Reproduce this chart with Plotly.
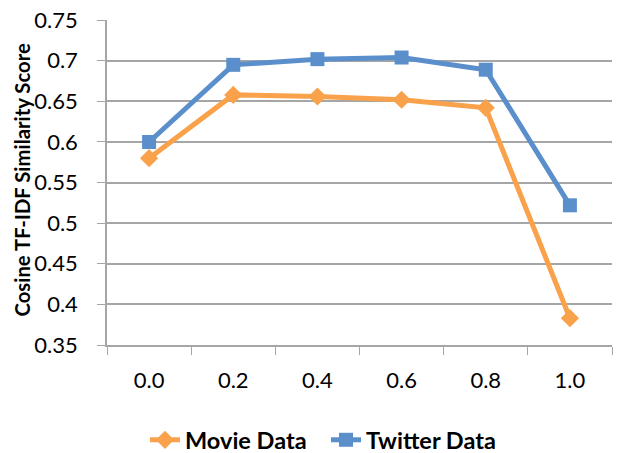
import plotly.graph_objects as go

categories = ["0.0", "0.2", "0.4", "0.6", "0.8", "1.0"]
movie_values = [0.580, 0.658, 0.656, 0.652, 0.642, 0.383]
twitter_values = [0.600, 0.695, 0.702, 0.704, 0.689, 0.522]
y_ticks = [0.35, 0.4, 0.45, 0.5, 0.55, 0.6, 0.65, 0.7, 0.75]
y_tick_labels = ["0.35", "0.4", "0.45", "0.5", "0.55", "0.6", "0.65", "0.7", "0.75"]

FONT = "Lato, 'Open Sans', sans-serif"
ORANGE = "#F9A24B"
BLUE = "#5A8FCB"
GRID = "#A6A6A6"

# body margin is removed by a post script, so the figure fills the window
W, H = 617, 453
L, T, B, R = 107, 20, 108, 5
PH = H - T - B
PW = W - L - R
OFF = 0


def px_x(page_x):
    return (page_x - OFF - L) / PW


def px_y(page_y):
    return (T + PH - (page_y - OFF)) / PH


fig = go.Figure()
fig.add_trace(go.Scatter(
    x=categories, y=movie_values, name="Movie Data", mode="lines+markers",
    line=dict(color=ORANGE, width=5),
    marker=dict(symbol="diamond", size=14, color=ORANGE),
    legend="legend",
))
fig.add_trace(go.Scatter(
    x=categories, y=twitter_values, name="Twitter Data", mode="lines+markers",
    line=dict(color=BLUE, width=5),
    marker=dict(symbol="square", size=14, color=BLUE),
    legend="legend2",
))

legend_style = dict(
    orientation="h", xanchor="left", yanchor="middle",
    font=dict(size=23.5, family=FONT, weight="bold", color="#000000"),
    itemwidth=30, bgcolor="rgba(0,0,0,0)",
)

fig.update_layout(
    width=W, height=H,
    margin=dict(l=L, r=R, t=T, b=B, autoexpand=False),
    paper_bgcolor="white", plot_bgcolor="white",
    font=dict(family=FONT, color="#000000", size=22),
    showlegend=True,
    legend=dict(x=px_x(145), y=px_y(440), **legend_style),
    legend2=dict(x=px_x(326), y=px_y(440), **legend_style),
    xaxis=dict(
        type="category", range=[-0.5, 5.5], automargin=False,
        showline=True, linecolor=GRID, linewidth=1.5,
        ticks="outside", tickson="boundaries", ticklen=8, tickcolor=GRID,
        showgrid=False, zeroline=False, ticklabelstandoff=15,
        tickfont=dict(size=22, family=FONT), ticklabeloverflow="allow",
    ),
    yaxis=dict(
        range=[0.35, 0.7502], tickvals=y_ticks, ticktext=y_tick_labels,
        automargin=False, ticklabeloverflow="allow",
        showline=True, linecolor=GRID, linewidth=1.5,
        ticks="outside", ticklen=8, tickcolor=GRID, ticklabelstandoff=15,
        showgrid=True, gridcolor=GRID, gridwidth=1.5, zeroline=False,
        tickfont=dict(size=22, family=FONT),
    ),
    annotations=[dict(
        text="<b>Cosine TF-IDF Similarity Score</b>",
        textangle=-90, xref="paper", yref="paper",
        x=px_x(21), y=px_y(180.5),
        xanchor="center", yanchor="middle", showarrow=False,
        font=dict(size=20.3, family=FONT, color="#000000"),
    )],
)

fig.write_html(
    "out.html",
    config={"displayModeBar": False},
    post_script="document.body.style.margin='0';document.body.style.padding='0';",
)
